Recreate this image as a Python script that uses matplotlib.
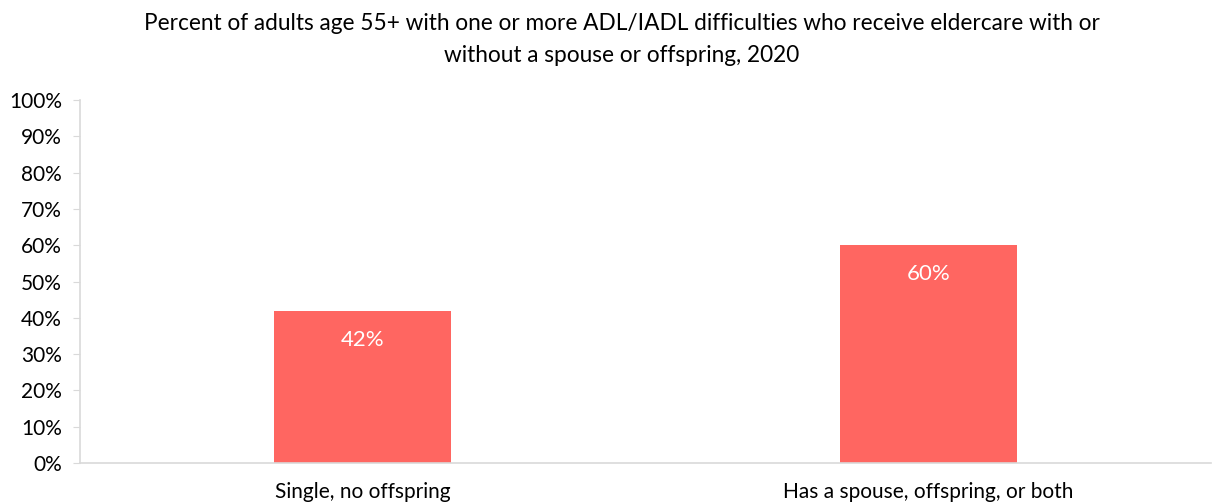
import matplotlib.pyplot as plt
from matplotlib.ticker import PercentFormatter

categories = ["Single, no offspring", "Has a spouse, offspring, or both"]
values = [42, 60]
value_labels = ["42%", "60%"]
title = ("Percent of adults age 55+ with one or more ADL/IADL difficulties who receive eldercare with or\n"
         "without a spouse or offspring, 2020")

plt.rcParams["font.family"] = ["Lato", "DejaVu Sans"]

fig = plt.figure(figsize=(12.14, 5.04), dpi=100)
ax = fig.add_axes([0.0659, 0.0813, 0.932, 0.7203])

x = list(range(len(categories)))
bars = ax.bar(x, values, width=0.313, color="#FF6661", zorder=2)

for bar, label in zip(bars, value_labels):
    ax.annotate(label, (bar.get_x() + bar.get_width() / 2, bar.get_height()),
                xytext=(0, -29), textcoords="offset pixels",
                ha="center", va="center", color="white", fontsize=16)

ax.set_xlim(-0.5, len(categories) - 0.5)
ax.set_ylim(0, 100)
ax.set_yticks(range(0, 101, 10))
ax.yaxis.set_major_formatter(PercentFormatter(decimals=0))
ax.set_xticks(x)
ax.set_xticklabels(categories)

for side in ["top", "right"]:
    ax.spines[side].set_visible(False)
for side in ["left", "bottom"]:
    ax.spines[side].set_color("#D9D9D9")
    ax.spines[side].set_linewidth(1.2)

ax.tick_params(axis="y", length=5, color="#D9D9D9", labelsize=15, pad=8)
ax.tick_params(axis="x", length=0, labelsize=15, pad=14)

fig.text(0.512, 0.975, title, ha="center", va="top", fontsize=16.3, linespacing=1.65)

fig.savefig("out.png", dpi=100)
